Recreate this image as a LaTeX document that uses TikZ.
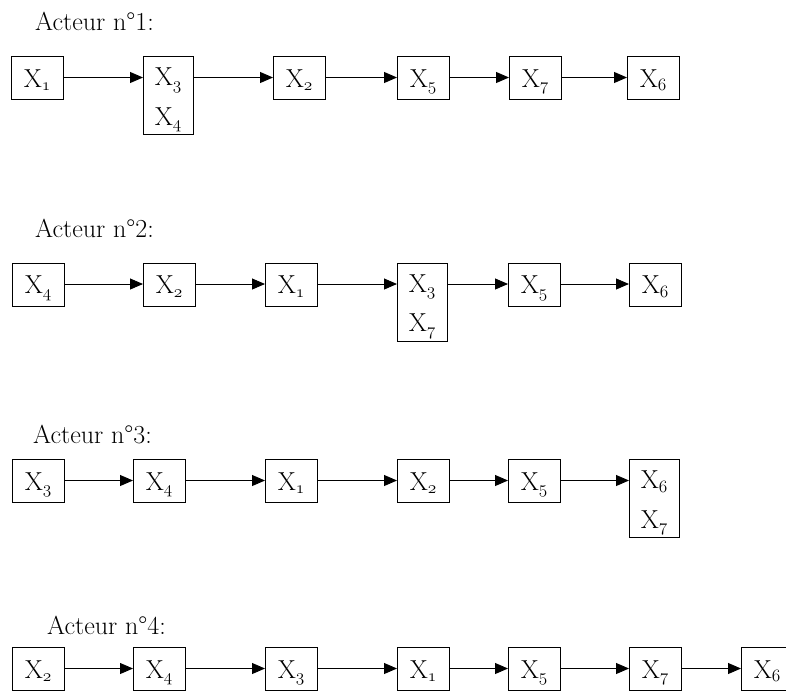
\documentclass[tikz,border=0pt]{standalone}
\usepackage{fontspec}
\usetikzlibrary{arrows.meta}
\tikzset{
  box/.style={draw, line width=0.9pt, minimum width=52pt, minimum height=43pt, inner sep=0pt, anchor=north west},
  dbox/.style={box, minimum width=50pt, minimum height=78pt},
  lab/.style={font=\fontsize{26}{28}\selectfont, inner sep=0pt, anchor=base},
  ttl/.style={font=\fontsize{26}{28}\selectfont\addfontfeature{LetterSpace=11}, inner sep=0pt, anchor=base west},
  arr/.style={-{Triangle[length=13pt,width=11pt]}, line width=0.9pt}
}
\newcommand\xlab[1]{X$_{\mathnormal{#1}}$}
\newcommand\mkbox[4]{%
  \node[box] (#1) at (#2,#3) {};
  \node[lab] (#1t) at ([yshift=-31pt]#1.north) {\xlab{#4}};}
\newcommand\mkdbox[5]{%
  \node[dbox] (#1) at (#2,#3) {};
  \node[lab] (#1t) at ([yshift=-29.5pt]#1.north) {\xlab{#4}};
  \node[lab] (#1u) at ([yshift=-69pt]#1.north) {\xlab{#5}};}
\newcommand\link[2]{\draw[arr] ([yshift=-21.5pt]#1.north east) -- ([yshift=-21.5pt]#2.north west);}
\begin{document}
\begin{tikzpicture}[x=1pt,y=-1pt]
\useasboundingbox (0,0) rectangle (786,691);
\clip (0,0) rectangle (786,691);
% Row 1
\node[ttl] (t1) at (35,30) {Acteur n°1:};
\mkbox{a1}{11}{56}{1}
\mkdbox{a2}{143}{56}{3}{4}
\mkbox{a3}{273}{56}{2}
\mkbox{a4}{397}{56}{5}
\mkbox{a5}{509}{56}{7}
\mkbox{a6}{627}{56}{6}
\link{a1}{a2}\link{a2}{a3}\link{a3}{a4}\link{a4}{a5}\link{a5}{a6}
% Row 2
\node[ttl] (t2) at (35,237) {Acteur n°2:};
\mkbox{b1}{12}{262.5}{4}
\mkbox{b2}{143}{262.5}{2}
\mkbox{b3}{265}{262.5}{1}
\mkdbox{b4}{397}{262.5}{3}{7}
\mkbox{b5}{508}{262.5}{5}
\mkbox{b6}{629}{262.5}{6}
\link{b1}{b2}\link{b2}{b3}\link{b3}{b4}\link{b4}{b5}\link{b5}{b6}
% Row 3
\node[ttl] (t3) at (33,443) {Acteur n°3:};
\mkbox{c1}{12}{459}{3}
\mkbox{c2}{133}{459}{4}
\mkbox{c3}{265}{459}{1}
\mkbox{c4}{397}{459}{2}
\mkbox{c5}{508}{459}{5}
\mkdbox{c6}{629}{459}{6}{7}
\link{c1}{c2}\link{c2}{c3}\link{c3}{c4}\link{c4}{c5}\link{c5}{c6}
% Row 4
\node[ttl] (t4) at (47,634) {Acteur n°4:};
\mkbox{d1}{12}{647}{2}
\mkbox{d2}{133}{647}{4}
\mkbox{d3}{265}{647}{3}
\mkbox{d4}{397}{647}{1}
\mkbox{d5}{508}{647}{5}
\mkbox{d6}{629}{647}{7}
\mkbox{d7}{741}{647}{6}
\link{d1}{d2}\link{d2}{d3}\link{d3}{d4}\link{d4}{d5}\link{d5}{d6}\link{d6}{d7}
\end{tikzpicture}
\end{document}
